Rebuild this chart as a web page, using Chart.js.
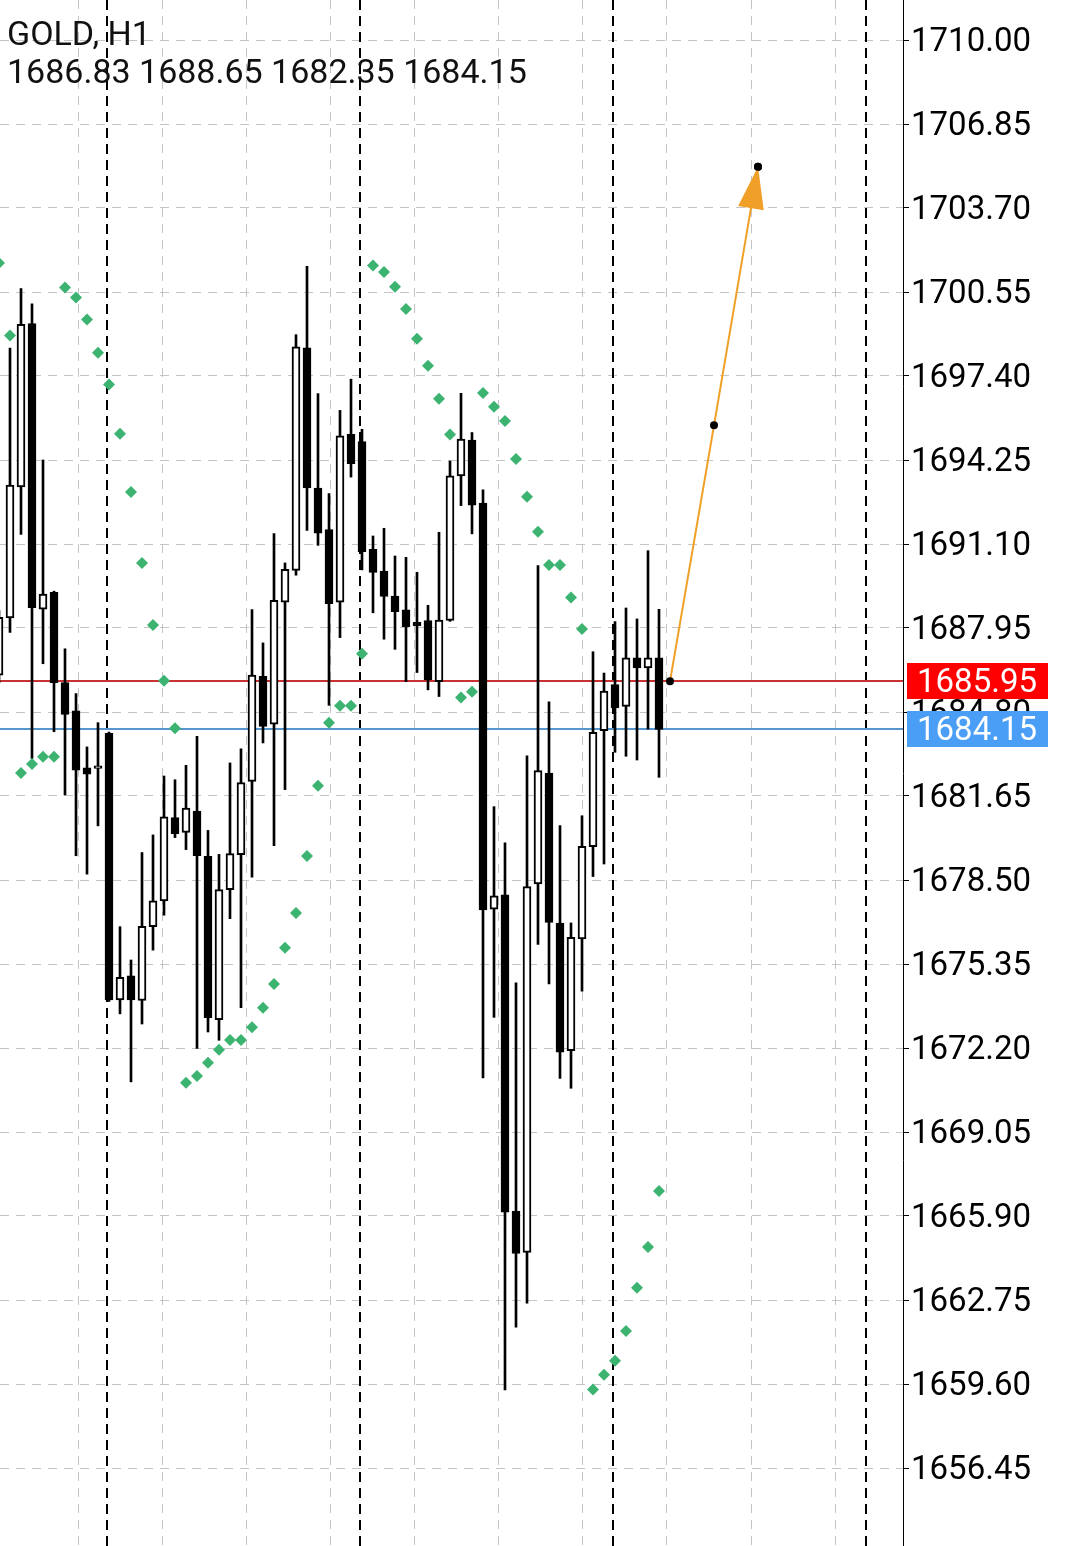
<!DOCTYPE html>
<html>
<head>
<meta charset="utf-8">
<title>GOLD, H1</title>
<script src="https://cdn.jsdelivr.net/npm/chart.js@4.4.1/dist/chart.umd.min.js"></script>
<style>
html, body { margin: 0; padding: 0; background: #fff; }
#wrap { position: relative; width: 1065px; height: 1546px; overflow: hidden; }
#head { position: absolute; left: 7px; top: 14px; font: 34px/38px Roboto, sans-serif; color: #111; white-space: pre; }
</style>
</head>
<body>
<div id="wrap">
  <canvas id="myChart" width="1065" height="1546"></canvas>
  <div id="head"><div id="symbol"></div><div id="ohlc"></div></div>
</div>
<script>
// GOLD H1 candles (oldest first)
const opens  = [1686.18, 1688.33, 1693.24, 1699.37, 1688.66, 1689.29, 1685.90, 1684.84, 1682.71, 1682.68,
                1684.00, 1674.00, 1674.91, 1673.98, 1676.75, 1677.72, 1680.84, 1680.28, 1681.08, 1679.39,
                1673.26, 1678.14, 1679.45, 1682.20, 1686.14, 1684.34, 1688.92, 1690.11, 1698.46, 1693.20,
                1691.64, 1688.92, 1695.21, 1694.94, 1690.90, 1690.08, 1689.15, 1688.63, 1688.16, 1688.23,
                1685.94, 1688.23, 1693.65, 1695.00, 1692.63, 1677.41, 1677.94, 1666.08, 1664.53, 1678.35,
                1682.51, 1676.88, 1672.10, 1676.29, 1679.75, 1684.10, 1685.83, 1685.01, 1686.83, 1686.45,
                1686.83];
const highs  = [1688.60, 1698.45, 1700.68, 1700.11, 1694.25, 1689.33, 1687.17, 1685.49, 1683.49, 1684.40,
                1684.05, 1676.75, 1675.50, 1679.53, 1680.19, 1682.40, 1682.26, 1682.80, 1683.89, 1680.36,
                1679.46, 1682.89, 1683.42, 1688.64, 1687.39, 1691.49, 1690.39, 1698.95, 1701.51, 1696.74,
                1692.99, 1696.11, 1697.28, 1695.40, 1691.40, 1691.69, 1690.65, 1690.60, 1690.04, 1688.80,
                1691.54, 1694.21, 1696.75, 1695.28, 1693.13, 1681.25, 1679.89, 1674.64, 1683.16, 1690.29,
                1685.18, 1680.54, 1676.89, 1680.91, 1687.06, 1686.26, 1688.19, 1688.70, 1688.29, 1690.85,
                1688.65];
const lows   = [1685.90, 1687.78, 1691.46, 1683.06, 1686.61, 1684.06, 1681.69, 1679.41, 1678.72, 1680.53,
                1673.95, 1673.48, 1670.93, 1673.10, 1675.87, 1677.18, 1680.09, 1679.64, 1672.18, 1672.80,
                1672.49, 1677.05, 1673.71, 1678.61, 1683.64, 1679.79, 1681.89, 1689.93, 1691.61, 1691.05,
                1685.05, 1687.59, 1693.61, 1690.13, 1688.52, 1687.53, 1687.15, 1685.94, 1686.28, 1685.63,
                1685.38, 1688.20, 1692.54, 1691.48, 1671.08, 1673.35, 1659.38, 1661.73, 1662.63, 1676.08,
                1674.60, 1671.06, 1670.69, 1674.33, 1678.63, 1679.10, 1683.29, 1683.14, 1683.00, 1684.16,
                1682.35];
const closes = [1688.35, 1693.31, 1699.34, 1688.71, 1689.22, 1685.90, 1684.71, 1682.62, 1682.47, 1682.78,
                1674.00, 1674.85, 1674.00, 1676.76, 1677.72, 1680.87, 1680.24, 1681.20, 1679.41, 1673.34,
                1678.14, 1679.49, 1682.15, 1686.18, 1684.26, 1688.99, 1690.15, 1698.49, 1693.20, 1691.51,
                1688.86, 1695.16, 1694.11, 1690.81, 1690.03, 1689.13, 1688.56, 1688.00, 1688.04, 1686.00,
                1688.25, 1693.66, 1695.03, 1692.56, 1677.38, 1677.91, 1666.04, 1664.50, 1678.25, 1682.60,
                1676.91, 1672.04, 1676.35, 1679.76, 1684.04, 1685.58, 1684.95, 1686.83, 1686.45, 1686.83,
                1684.15];
// Parabolic SAR
const sar    = [1701.64, 1698.92, 1682.51, 1682.85, 1683.12, 1683.12, 1700.72, 1700.34, 1699.52, 1698.27,
                1697.08, 1695.23, 1693.05, 1690.39, 1688.06, 1685.97, 1684.19, 1670.90, 1671.15, 1671.65,
                1672.13, 1672.50, 1672.50, 1672.98, 1673.71, 1674.60, 1675.96, 1677.26, 1679.40, 1682.03,
                1684.40, 1685.03, 1685.03, 1686.98, 1701.54, 1701.30, 1700.75, 1699.91, 1698.80, 1697.78,
                1696.55, 1695.21, 1685.34, 1685.56, 1696.76, 1696.25, 1695.71, 1694.29, 1692.87, 1691.56,
                1690.31, 1690.31, 1689.09, 1687.91, 1659.39, 1659.95, 1660.47, 1661.59, 1663.21, 1664.74,
                1666.84];

const yTicks = [1656.45, 1659.60, 1662.75, 1665.90, 1669.05, 1672.20, 1675.35, 1678.50, 1681.65,
                1684.80, 1687.95, 1691.10, 1694.25, 1697.40, 1700.55, 1703.70, 1706.85, 1710.00];
const daySeparators = [10, 33, 56, 79];
const askPrice = 1685.95;
const bidPrice = 1684.15;
const forecastIdx = [61, 65, 69];
const forecastPrice = [1685.95, 1695.55, 1705.25];

const symbolName = 'GOLD, H1';
const last = opens.length - 1;
document.getElementById('symbol').textContent = symbolName;
document.getElementById('ohlc').textContent =
    [opens[last], highs[last], lows[last], closes[last]].map(v => v.toFixed(2)).join(' ');

Chart.defaults.font.family = 'Roboto';

const orange = 'rgb(240,160,40)';

const overlay = {
    id: 'overlay',
    beforeDatasetsDraw(chart) {
        const {ctx, chartArea, scales} = chart;
        ctx.save();
        // day separators
        ctx.strokeStyle = '#000';
        ctx.lineWidth = 2;
        ctx.setLineDash([10, 6]);
        daySeparators.forEach(d => {
            const px = Math.round(scales.x.getPixelForValue(d)) - 2;
            ctx.beginPath();
            ctx.moveTo(px, chartArea.top);
            ctx.lineTo(px, chartArea.bottom);
            ctx.stroke();
        });
        ctx.setLineDash([]);
        // ask / bid lines
        [[askPrice, 'rgb(200,50,50)'], [bidPrice, 'rgb(85,150,205)']].forEach(([p, c]) => {
            const py = Math.round(scales.y.getPixelForValue(p));
            ctx.strokeStyle = c;
            ctx.lineWidth = 2;
            ctx.beginPath();
            ctx.moveTo(chartArea.left, py);
            ctx.lineTo(chartArea.right, py);
            ctx.stroke();
        });
        ctx.restore();
    },
    afterDatasetsDraw(chart) {
        // arrow head on the forecast line
        const {ctx, scales} = chart;
        const n = forecastIdx.length;
        const x1 = scales.x.getPixelForValue(forecastIdx[n - 2]);
        const y1 = scales.y.getPixelForValue(forecastPrice[n - 2]);
        const x2 = scales.x.getPixelForValue(forecastIdx[n - 1]);
        const y2 = scales.y.getPixelForValue(forecastPrice[n - 1]);
        const len = Math.hypot(x2 - x1, y2 - y1);
        const ux = (x2 - x1) / len, uy = (y2 - y1) / len;
        const bx = x2 - ux * 42, by = y2 - uy * 42;
        ctx.save();
        ctx.fillStyle = orange;
        ctx.beginPath();
        ctx.moveTo(x2, y2);
        ctx.lineTo(bx - uy * 13, by + ux * 13);
        ctx.lineTo(bx + uy * 13, by - ux * 13);
        ctx.closePath();
        ctx.fill();
        ctx.fillStyle = '#000';
        ctx.beginPath();
        ctx.arc(x2, y2, 4, 0, Math.PI * 2);
        ctx.fill();
        ctx.restore();
    },
    afterDraw(chart) {
        // price labels on the axis
        const {ctx, scales, chartArea} = chart;
        ctx.save();
        ctx.font = '33px Roboto';
        ctx.textBaseline = 'middle';
        [[askPrice, '#ff0000'], [bidPrice, '#4a9ef5']].forEach(([p, c]) => {
            const py = Math.round(scales.y.getPixelForValue(p));
            ctx.fillStyle = c;
            ctx.fillRect(chartArea.right + 4, py - 18, 141, 36);
            ctx.fillStyle = '#fff';
            ctx.fillText(p.toFixed(2), chartArea.right + 14, py + 3);
        });
        ctx.restore();
    }
};

const idx = opens.map((_, i) => i);

const data = {
    datasets: [
        {
            type: 'line',
            data: forecastIdx.map((v, i) => ({x: v, y: forecastPrice[i]})),
            borderColor: orange,
            borderWidth: 2,
            pointRadius: 4,
            pointBackgroundColor: '#000',
            pointBorderColor: '#000',
            pointBorderWidth: 0,
            order: 1,
        },
        {
            type: 'line',
            data: idx.map(i => ({x: i, y: sar[i]})),
            showLine: false,
            pointStyle: 'rectRot',
            pointRadius: 6,
            pointBackgroundColor: '#3cb371',
            pointBorderWidth: 0,
            order: 2,
        },
        {
            type: 'bar',
            data: idx.map(i => ({x: i, y: [opens[i], closes[i]]})),
            backgroundColor: idx.map(i => closes[i] >= opens[i] ? '#fff' : '#000'),
            borderColor: '#000',
            borderWidth: 2,
            borderSkipped: false,
            barThickness: 8,
            grouped: false,
            order: 3,
        },
        {
            type: 'bar',
            data: idx.map(i => ({x: i, y: [lows[i], highs[i]]})),
            backgroundColor: '#000',
            borderWidth: 0,
            barThickness: 2,
            grouped: false,
            order: 4,
        }
    ]
};

const config = {
    type: 'bar',
    data: data,
    options: {
        responsive: false,
        animation: false,
        devicePixelRatio: 1,
        layout: { padding: 0, autoPadding: false },
        plugins: {
            legend: { display: false },
            tooltip: { enabled: false },
        },
        scales: {
            x: {
                type: 'linear',
                offset: false,
                min: 1 / 11,
                max: 904 / 11,
                afterBuildTicks: scale => {
                    const t = [];
                    for (let v = 7.21; v < scale.max; v += 7.645) t.push({value: v});
                    scale.ticks = t;
                },
                afterFit: scale => {
                    scale.height = 0;
                    scale.paddingLeft = 0;
                    scale.paddingRight = 0;
                },
                ticks: { display: false },
                grid: { color: '#c4c4c4', lineWidth: 1, drawTicks: false, offset: false },
                border: { display: false, dash: [9, 7] },
            },
            y: {
                position: 'right',
                min: 1653.525,
                max: 1711.5,
                afterBuildTicks: scale => {
                    scale.ticks = yTicks.map(v => ({value: v}));
                },
                afterFit: scale => {
                    scale.width = 162;
                    scale.paddingTop = 0;
                    scale.paddingBottom = 0;
                },
                ticks: {
                    color: '#000',
                    font: { size: 33 },
                    padding: 2,
                    labelOffset: 3,
                    autoSkip: false,
                    callback: v => v.toFixed(2),
                },
                grid: { color: '#c4c4c4', lineWidth: 1, tickLength: 6, tickColor: '#000', offset: false },
                border: { display: true, color: '#000', width: 1, dash: [9, 7] },
            }
        }
    },
    plugins: [overlay]
};

const myChart = new Chart(document.getElementById('myChart'), config);
</script>
</body>
</html>
